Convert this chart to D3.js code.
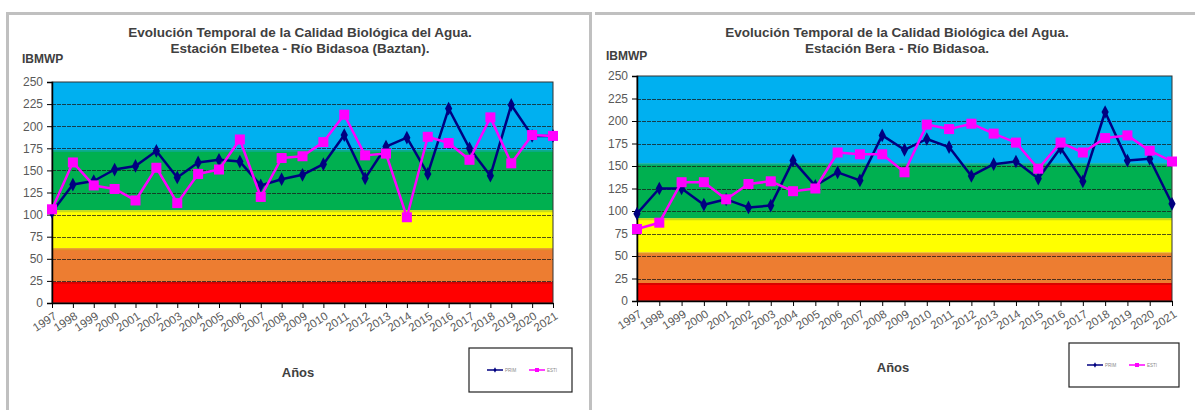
<!DOCTYPE html>
<html>
<head>
<meta charset="utf-8">
<script src="https://cdn.jsdelivr.net/npm/d3@7/dist/d3.min.js"></script>
<style>
  html, body { margin: 0; padding: 0; background: #fff; }
  svg { display: block; font-family: "Liberation Sans", Arial, sans-serif; }
</style>
</head>
<body>
<svg id="chart" width="1195" height="410"></svg>
<script>
// ---------- DATA ----------
const years = ["1997","1998","1999","2000","2001","2002","2003","2004","2005","2006","2007","2008","2009",
               "2010","2011","2012","2013","2014","2015","2016","2017","2018","2019","2020","2021"];
const yTicks = [0, 25, 50, 75, 100, 125, 150, 175, 200, 225, 250];
const seriesNames = ["PRIM", "ESTI"];

// Estación Elbetea - Río Bidasoa (Baztan)
const elbeteaPrim = [103, 134, 138, 151, 155, 172, 142, 159, 162, 160, 133, 140, 145,
                     157, 190, 141, 177, 187, 146, 220, 175, 144, 224, 189, 189];
const elbeteaEsti = [106, 159, 133, 129, 116, 153, 113, 146, 151, 185, 120, 164, 166,
                     182, 213, 167, 169, 97, 188, 181, 162, 210, 158, 190, 189];
const elbeteaBands = [0, 24, 62, 105, 173, 250];

// Estación Bera - Río Bidasoa
const beraPrim = [97, 125, 125, 107, 113, 104, 106, 156, 128, 143, 134, 184, 168,
                  180, 171, 139, 152, 155, 136, 170, 133, 210, 156, 158, 108];
const beraEsti = [80, 87, 132, 132, 113, 130, 133, 122, 125, 165, 163, 163, 143,
                  196, 191, 197, 186, 176, 147, 176, 165, 181, 184, 167, 155];
const beraBands = [0, 20, 54, 92, 153, 250];

const bandColors = ["#ff0000", "#ed7d31", "#ffff00", "#00b050", "#00b0f0"];
const bandEdge = ["#c00000", "#e0a020", "#a8c820", "#10a8a8"];
const seriesColors = ["#000080", "#ff00ff"];

// ---------- DRAW ----------
const svg = d3.select("#chart");

// panel frames
svg.append("rect").attr("x", 7.5).attr("y", 13.5).attr("width", 583).attr("height", 410)
  .attr("fill", "none").attr("stroke", "#c0c0c0").attr("stroke-width", 3);
svg.append("line").attr("x1", 595).attr("x2", 1195).attr("y1", 13.5).attr("y2", 13.5)
  .attr("stroke", "#c0c0c0").attr("stroke-width", 3);

function drawPanel(cfg) {
  const g = svg.append("g");
  const x = d3.scalePoint().domain(years).range([cfg.left, cfg.right]);
  const y = d3.scaleLinear().domain([0, 250]).range([cfg.bottom, cfg.top]);
  const w = cfg.right - cfg.left;

  // bands
  for (let i = 0; i < bandColors.length; i++) {
    g.append("rect")
      .attr("x", cfg.left).attr("width", w)
      .attr("y", y(cfg.bands[i + 1])).attr("height", y(cfg.bands[i]) - y(cfg.bands[i + 1]))
      .attr("fill", bandColors[i]);
  }
  for (let i = 1; i < cfg.bands.length - 1; i++) {
    g.append("line")
      .attr("x1", cfg.left).attr("x2", cfg.right)
      .attr("y1", y(cfg.bands[i]) + 1).attr("y2", y(cfg.bands[i]) + 1)
      .attr("stroke", bandEdge[i - 1]).attr("stroke-width", 2).attr("opacity", 0.6);
  }

  // gridlines
  g.append("g").selectAll("line").data(yTicks.filter(t => t > 0 && t < 250)).join("line")
    .attr("x1", cfg.left).attr("x2", cfg.right)
    .attr("y1", d => Math.round(y(d)) + 0.5).attr("y2", d => Math.round(y(d)) + 0.5)
    .attr("stroke", "#1a1a1a").attr("stroke-width", 1).attr("opacity", 0.75)
    .attr("stroke-dasharray", "4,1");

  // frame top/right
  g.append("rect").attr("x", cfg.left).attr("y", cfg.top).attr("width", w)
    .attr("height", cfg.bottom - cfg.top).attr("fill", "none")
    .attr("stroke", "#333").attr("stroke-width", 1);

  // y axis
  const ya = g.append("g").attr("transform", `translate(${cfg.left},0)`)
    .call(d3.axisLeft(y).tickValues(yTicks).tickSize(5).tickPadding(4));
  ya.select(".domain").attr("stroke", "#000").attr("stroke-width", 1.5);
  ya.selectAll(".tick line").attr("stroke", "#000");
  ya.selectAll("text").attr("font-size", 12).attr("fill", "#595959");

  // x axis
  const xa = g.append("g").attr("transform", `translate(0,${cfg.bottom})`)
    .call(d3.axisBottom(x).tickSize(5).tickSizeOuter(0));
  xa.select(".domain").attr("stroke", "#000").attr("stroke-width", 1.5);
  xa.selectAll(".tick line").attr("stroke", "#000");
  xa.selectAll("text").attr("font-size", 11.5).attr("fill", "#595959")
    .attr("text-anchor", "end").attr("dy", 0).attr("y", 0)
    .attr("transform", "translate(5,15) rotate(-33)");

  // series
  const data = [cfg.prim, cfg.esti];
  const line = d3.line().x((d, i) => x(years[i])).y(d => y(d));
  data.forEach((vals, si) => {
    g.append("path").datum(vals).attr("d", line)
      .attr("fill", "none").attr("stroke", seriesColors[si]).attr("stroke-width", 2.5)
      .attr("stroke-linejoin", "round");
    if (si === 0) {
      g.append("g").selectAll("path").data(vals).join("path")
        .attr("d", d3.symbol(d3.symbolDiamond, 45))
        .attr("transform", (d, i) => `translate(${x(years[i])},${y(d)}) scale(1,1.1)`)
        .attr("fill", seriesColors[si]);
    } else {
      g.append("g").selectAll("rect").data(vals).join("rect")
        .attr("x", (d, i) => x(years[i]) - 5).attr("y", d => y(d) - 5)
        .attr("width", 10).attr("height", 10)
        .attr("fill", seriesColors[si]);
    }
  });

  // titles
  const t = g.append("text").attr("text-anchor", "middle").attr("font-size", 13.5)
    .attr("font-weight", "bold").attr("fill", "#404040");
  t.append("tspan").attr("x", cfg.titleX).attr("y", cfg.titleY).text(cfg.title1);
  t.append("tspan").attr("x", cfg.titleX).attr("y", cfg.titleY + 16).text(cfg.title2);

  g.append("text").attr("x", cfg.ylabX).attr("y", cfg.ylabY).attr("font-size", 12)
    .attr("font-weight", "bold").attr("fill", "#404040").text("IBMWP");

  g.append("text").attr("x", cfg.xlabX).attr("y", cfg.xlabY).attr("text-anchor", "middle")
    .attr("font-size", 13).attr("font-weight", "bold").attr("fill", "#404040").text("Años");

  // legend
  const L = cfg.legend;
  g.append("rect").attr("x", L.x).attr("y", L.y).attr("width", L.w).attr("height", L.h)
    .attr("fill", "#fff").attr("stroke", "#222").attr("stroke-width", 1.2);
  seriesNames.forEach((name, si) => {
    const lx = L.x + 18 + si * 42;
    const ly = L.y + L.h / 2;
    g.append("line").attr("x1", lx).attr("x2", lx + 16).attr("y1", ly).attr("y2", ly)
      .attr("stroke", seriesColors[si]).attr("stroke-width", 1.5);
    if (si === 0) {
      g.append("path").attr("d", d3.symbol(d3.symbolDiamond, 8))
        .attr("transform", `translate(${lx + 8},${ly})`).attr("fill", seriesColors[si]);
    } else {
      g.append("rect").attr("x", lx + 6).attr("y", ly - 2).attr("width", 4).attr("height", 4)
        .attr("fill", seriesColors[si]);
    }
    g.append("text").attr("x", lx + 18).attr("y", ly + 1.5).attr("font-size", 4.5)
      .attr("fill", "#888").text(name);
  });
}

drawPanel({
  left: 52, right: 553, top: 82, bottom: 303,
  bands: elbeteaBands, prim: elbeteaPrim, esti: elbeteaEsti,
  title1: "Evolución Temporal de la Calidad Biológica del Agua.",
  title2: "Estación Elbetea - Río Bidasoa (Baztan).",
  titleX: 300, titleY: 37, ylabX: 22, ylabY: 63,
  xlabX: 298, xlabY: 377,
  legend: { x: 469, y: 348, w: 103, h: 44 }
});

drawPanel({
  left: 637, right: 1172, top: 76, bottom: 301,
  bands: beraBands, prim: beraPrim, esti: beraEsti,
  title1: "Evolución Temporal de la Calidad Biológica del Agua.",
  title2: "Estación Bera - Río Bidasoa.",
  titleX: 897, titleY: 37, ylabX: 606, ylabY: 60,
  xlabX: 893, xlabY: 372,
  legend: { x: 1069, y: 343, w: 110, h: 44 }
});
</script>
</body>
</html>
